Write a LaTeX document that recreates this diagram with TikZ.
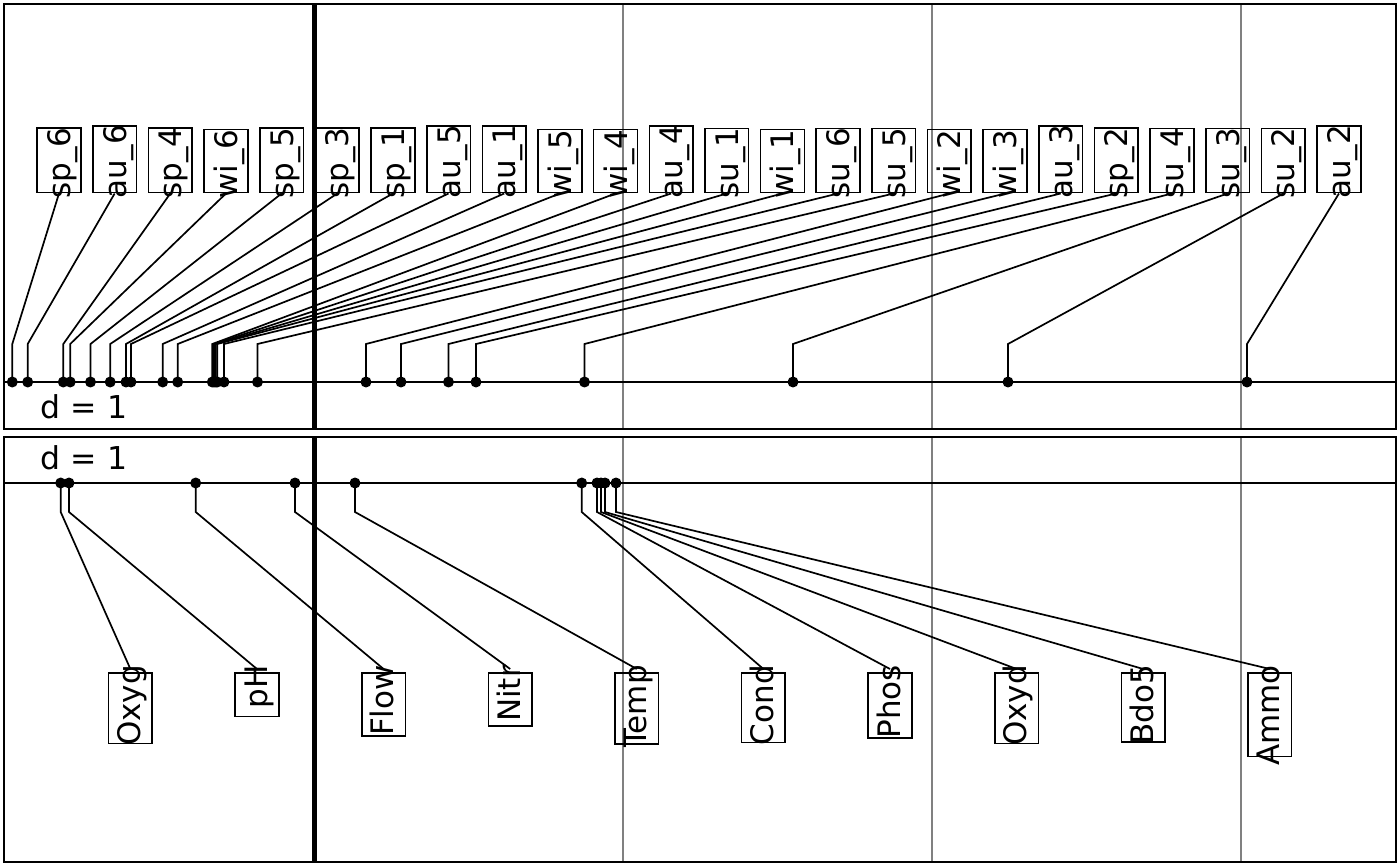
\documentclass[tikz,border=0pt]{standalone}
\usepackage{fontspec}
\setmainfont{DejaVu Sans}
\begin{document}
\begin{tikzpicture}[x=1pt,y=-1pt,
  panel/.style={draw=black,line width=1.9pt},
  gridline/.style={draw=gray,line width=1.4pt},
  zeroline/.style={draw=black,line width=5pt},
  axisline/.style={draw=black,line width=1.7pt},
  dotnode/.style={circle,fill=black,inner sep=0pt,minimum size=11pt},
  conn/.style={draw=black,line width=1.7pt},
  lbox/.style={draw=black,line width=1.6pt,rectangle,inner sep=0pt,minimum width=43.7pt},
  ltext/.style={rotate=90,inner sep=0pt,font=\fontsize{31}{36}\selectfont},
  dtext/.style={inner sep=0pt,font=\fontsize{31.5}{36}\selectfont}
]
\useasboundingbox (0,0) rectangle (1400,866);
\fill[white] (0,0) rectangle (1400,866);
% grid lines
\foreach \gx in {623,932,1241}{
  \draw[gridline] (\gx,4) -- (\gx,429);
  \draw[gridline] (\gx,437) -- (\gx,862);
}
\draw[zeroline] (314,4) -- (314,429);
\draw[zeroline] (314,437) -- (314,862);
\draw[axisline] (4,382) -- (1396,382);
\draw[axisline] (4,483) -- (1396,483);
% top panel
\foreach \i/\dx/\lab/\len in {0/12.3/sp\_6/64.5, 1/27.7/au\_6/66.5, 2/63.3/sp\_4/64.5, 3/70.2/wi\_6/63.3,
  4/90.5/sp\_5/64.5, 5/110.2/sp\_3/64.5, 6/126/sp\_1/64.5, 7/131/au\_5/66.5, 8/162.7/au\_1/66.5,
  9/177.7/wi\_5/63.3, 10/212.3/wi\_4/63.3, 11/214/au\_4/66.5, 12/215.7/su\_1/64, 13/217.3/wi\_1/63.3,
  14/224/su\_6/64, 15/257.5/su\_5/64, 16/366/wi\_2/63.3, 17/401/wi\_3/63.3, 18/448.5/au\_3/66.5,
  19/476/sp\_2/64.5, 20/584.5/su\_4/64, 21/793/su\_3/64, 22/1008/su\_2/64, 23/1247/au\_2/66.5}{
  \pgfmathsetmacro\lx{59+55.65*\i}
  \coordinate (tk\i) at (\dx,344);
  \node[lbox,anchor=south,minimum height=\len pt] (tb\i) at (\lx,193.5) {};
  \node[ltext,anchor=base west] (tt\i) at (\lx+11.5,199) {\lab};
  \node[dotnode] (td\i) at (\dx,382) {};
  \draw[conn] (td\i.center) -- (tk\i) -- (tb\i.south);
}
% bottom panel
\foreach \i/\dx/\lab/\len in {0/60.7/Oxyg/70.5, 1/69/pH/43.7, 2/195.7/Flow/63, 3/295/Nitr/53.3,
  4/355/Temp/71.3, 5/581.7/Cond/69.7, 6/597/Phos/65, 7/601/Oxyd/70.7, 8/605/Bdo5/69.3, 9/616/Ammo/83.7}{
  \pgfmathsetmacro\lx{130.4+126.6*\i}
  \coordinate (bk\i) at (\dx,512);
  \node[lbox,anchor=north,minimum height=\len pt] (bb\i) at (\lx,672) {};
  \node[ltext,anchor=base east] (bt\i) at (\lx+10,665) {\lab};
  \node[dotnode] (bd\i) at (\dx,483) {};
  \draw[conn] (bd\i.center) -- (bk\i) -- ([yshift=3pt]bb\i.north);
}
\node[dtext,anchor=base west] (dtop) at (40.5,418.3) {d = 1};
\node[dtext,anchor=base west] (dbot) at (40.5,469.3) {d = 1};
% panels
\draw[panel] (4,4) rectangle (1396,429);
\draw[panel] (4,437) rectangle (1396,862);
\end{tikzpicture}
\end{document}
